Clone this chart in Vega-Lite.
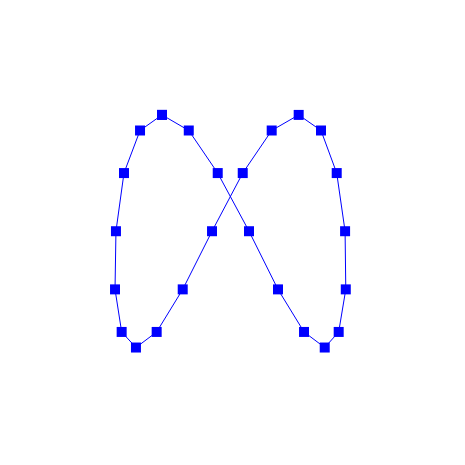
{
  "$schema": "https://vega.github.io/schema/vega-lite/v6.json",
  "width": 465,
  "height": 465,
  "autosize": {"type": "fit", "contains": "padding"},
  "padding": 0,
  "background": "white",
  "config": {"view": {"stroke": null}},
  "data": {"values": [
    {"i": 1, "x": -0.589, "y": 1},
    {"i": 2, "x": -0.359, "y": 0.866},
    {"i": 3, "x": -0.110, "y": 0.5},
    {"i": 4, "x": 0.159, "y": 0},
    {"i": 5, "x": 0.408, "y": -0.5},
    {"i": 6, "x": 0.632, "y": -0.866},
    {"i": 7, "x": 0.810, "y": -1},
    {"i": 8, "x": 0.930, "y": -0.866},
    {"i": 9, "x": 0.991, "y": -0.5},
    {"i": 10, "x": 0.985, "y": 0},
    {"i": 11, "x": 0.913, "y": 0.5},
    {"i": 12, "x": 0.778, "y": 0.866},
    {"i": 13, "x": 0.586, "y": 1},
    {"i": 14, "x": 0.354, "y": 0.866},
    {"i": 15, "x": 0.105, "y": 0.5},
    {"i": 16, "x": -0.159, "y": 0},
    {"i": 17, "x": -0.411, "y": -0.5},
    {"i": 18, "x": -0.635, "y": -0.866},
    {"i": 19, "x": -0.813, "y": -1},
    {"i": 20, "x": -0.936, "y": -0.866},
    {"i": 21, "x": -0.993, "y": -0.5},
    {"i": 22, "x": -0.985, "y": 0},
    {"i": 23, "x": -0.916, "y": 0.5},
    {"i": 24, "x": -0.778, "y": 0.866},
    {"i": 25, "x": -0.589, "y": 1}
  ]},
  "encoding": {
    "x": {"field": "x", "type": "quantitative", "scale": {"domain": [-1.982, 2.016], "nice": false, "zero": false}, "axis": null},
    "y": {"field": "y", "type": "quantitative", "scale": {"domain": [-2.010, 1.988], "nice": false, "zero": false}, "axis": null}
  },
  "layer": [
    {
      "mark": {"type": "line", "color": "#0000ff", "strokeWidth": 1, "clip": false},
      "encoding": {"order": {"field": "i", "type": "quantitative"}}
    },
    {
      "mark": {"type": "point", "shape": "square", "filled": true, "color": "#0000ff", "opacity": 1, "size": 100}
    }
  ]
}
